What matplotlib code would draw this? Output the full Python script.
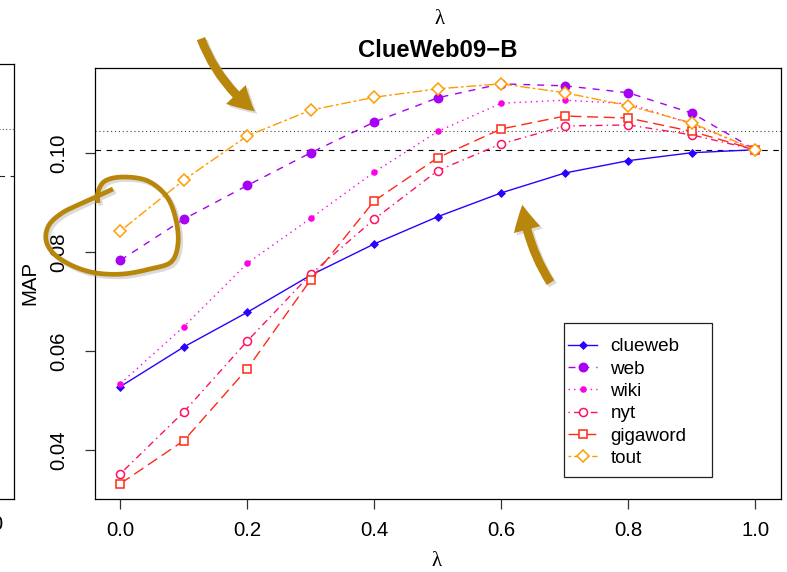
import numpy as np
import matplotlib
matplotlib.use("Agg")
import matplotlib.pyplot as plt
from matplotlib.patches import FancyArrowPatch, Rectangle
from matplotlib.lines import Line2D

plt.rcParams['font.family'] = ['Liberation Sans', 'DejaVu Sans']

# data
lam = [0.0, 0.1, 0.2, 0.3, 0.4, 0.5, 0.6, 0.7, 0.8, 0.9, 1.0]
clueweb = [0.0529, 0.0609, 0.0679, 0.0754, 0.0817, 0.0872, 0.0920, 0.0960, 0.0985, 0.1001, 0.1007]
web = [0.0784, 0.0867, 0.0935, 0.1001, 0.1063, 0.1112, 0.1140, 0.1136, 0.1122, 0.1081, 0.1007]
wiki = [0.0535, 0.0650, 0.0778, 0.0869, 0.0962, 0.1044, 0.1101, 0.1107, 0.1100, 0.1059, 0.1007]
nyt = [0.0353, 0.0478, 0.0621, 0.0756, 0.0867, 0.0965, 0.1019, 0.1055, 0.1057, 0.1037, 0.1007]
gigaword = [0.0333, 0.0420, 0.0565, 0.0745, 0.0904, 0.0991, 0.1049, 0.1075, 0.1071, 0.1044, 0.1007]
tout = [0.0843, 0.0946, 0.1035, 0.1087, 0.1113, 0.1130, 0.1140, 0.1122, 0.1096, 0.1061, 0.1007]
baseline_dashed = 0.1007
baseline_dotted = 0.10444

names = ['clueweb', 'web', 'wiki', 'nyt', 'gigaword', 'tout']
series = [clueweb, web, wiki, nyt, gigaword, tout]
colors = ['#2a00ff', '#a800f2', '#ff00e6', '#ff1063', '#ff2a14', '#ff9c00']
markers = ['D', 'o', 'o', 'o', 's', 'D']
msizes = [3.5, 6.0, 3.6, 5.8, 5.2, 5.8]
filled = [True, True, True, False, False, False]
dashes = [None, (5, 5), (1, 3), (1, 3, 5, 3), (8, 4), (2, 2, 7, 2)]

W, H = 787, 572
fig = plt.figure(figsize=(W / 100, H / 100), dpi=100)


def fx(px):
    return px / W


def fy(py):
    return 1 - py / H


# cut-off neighbour panel on the left
axl = fig.add_axes([fx(-300), fy(499), fx(314), fy(64) - fy(499)])
axl.set_xlim(0, 1)
axl.set_ylim(0, 1)
axl.set_xticks([])
axl.set_yticks([])
for s in axl.spines.values():
    s.set_linewidth(0.9)
axl.axhline(1 - (129 - 64) / 435, color='#555555', lw=0.8, dashes=(1, 2))
axl.axhline(1 - (176 - 64) / 435, color='#222222', lw=0.8, dashes=(5, 5))
fig.text(fx(4), fy(525), '1.0', ha='right', va='center', fontsize=14.7)

# main panel
ax = fig.add_axes([fx(95), fy(499), fx(780.7) - fx(95), fy(68) - fy(499)])
ax.set_xlim(-0.04, 1.04)
ax.set_ylim(0.0302, 0.1172)

ax.axhline(baseline_dashed, color='black', lw=0.8, dashes=(5, 5), zorder=1)
ax.axhline(baseline_dotted, color='#444444', lw=0.8, dashes=(1, 2.5), zorder=1)

handles = []
for name, vals, c, m, ms, f, d in zip(names, series, colors, markers, msizes, filled, dashes):
    kw = dict(color=c, lw=1.0, marker=m, ms=ms, mew=1.1,
              mfc=c if f else 'white', mec=c, label=name)
    if d is not None:
        kw['dashes'] = d
    line, = ax.plot(lam, vals, **kw)
    handles.append(line)

ax.set_xticks([0.0, 0.2, 0.4, 0.6, 0.8, 1.0])
ax.set_xticklabels(['0.0', '0.2', '0.4', '0.6', '0.8', '1.0'])
ax.set_yticks([0.04, 0.06, 0.08, 0.10])
ax.set_yticklabels(['0.04', '0.06', '0.08', '0.10'], rotation=90, va='center')
ax.tick_params(axis='both', labelsize=14.7, length=7, width=0.9, color='#333333')
ax.tick_params(axis='x', pad=9)
ax.tick_params(axis='y', pad=12)
for s in ax.spines.values():
    s.set_linewidth(0.9)

ax.set_title('ClueWeb09\u2212B', fontsize=17.2, fontweight='bold', pad=8)
fig.text(fx(30), fy(283), 'MAP', rotation=90, ha='center', va='center', fontsize=14.7)
fig.text(fx(437), fy(562), '\u03bb', ha='center', va='center', fontsize=15,
         family='Liberation Serif')
fig.text(fx(440), fy(20), '\u03bb', ha='center', va='center', fontsize=15,
         family='Liberation Serif')

# legend with its own box
fig.add_artist(Rectangle((fx(564.3), fy(476.7)), fx(712.3) - fx(564.3), fy(323.3) - fy(476.7),
                         transform=fig.transFigure, fill=False, lw=0.9, ec='#222222'))
fig.legend(handles=handles, loc='upper left', bbox_to_anchor=(fx(568), fy(338)),
           bbox_transform=fig.transFigure, frameon=False, fontsize=13.6,
           borderpad=0, borderaxespad=0, handlelength=1.55, handletextpad=0.7,
           labelspacing=0.27, numpoints=1)

# annotations: gold arrows and the hand-drawn loop
gold = '#b8860b'
shadow = '#999999'


def arrow(p0, p1, rad):
    for off, c, a, z in [((2.5, 2.5), shadow, 0.35, 5), ((0, 0), gold, 1.0, 6)]:
        ap = FancyArrowPatch((fx(p0[0] + off[0]), fy(p0[1] + off[1])),
                             (fx(p1[0] + off[0]), fy(p1[1] + off[1])),
                             transform=fig.transFigure,
                             connectionstyle='arc3,rad=%s' % rad,
                             arrowstyle='simple,head_width=1.4,head_length=1.3,tail_width=0.45',
                             mutation_scale=14, color=c, alpha=a, lw=0, zorder=z)
        fig.add_artist(ap)


arrow((200, 36), (257, 113), 0.15)
arrow((552, 285), (522, 202), -0.12)


def catmull(pts, n=12):
    pts = np.asarray(pts, float)
    pts = np.vstack([pts[0], pts, pts[-1]])
    out = []
    for i in range(1, len(pts) - 2):
        p0, p1, p2, p3 = pts[i - 1], pts[i], pts[i + 1], pts[i + 2]
        for t in np.linspace(0, 1, n, endpoint=False):
            out.append(0.5 * ((2 * p1) + (-p0 + p2) * t + (2 * p0 - 5 * p1 + 4 * p2 - p3) * t ** 2
                              + (-p0 + 3 * p1 - 3 * p2 + p3) * t ** 3))
    out.append(pts[-2])
    return np.array(out)


loop = [(113, 189), (98, 196), (80, 204), (62, 213), (49, 225), (46, 240), (54, 254),
        (73, 266), (96, 273), (123, 274), (150, 269), (171, 262), (178, 244),
        (176, 220), (167, 197), (148, 181), (123, 177), (105, 181), (98, 192), (98, 203)]
curve = catmull(loop)
for off, c, a, z in [((2.5, 2.5), shadow, 0.35, 5), ((0, 0), gold, 1.0, 6)]:
    fig.add_artist(Line2D(fx(curve[:, 0] + off[0]), fy(curve[:, 1] + off[1]),
                          transform=fig.transFigure, color=c, alpha=a, lw=3.4,
                          solid_capstyle='butt', solid_joinstyle='round', zorder=z))

fig.savefig('out.png', dpi=100)
